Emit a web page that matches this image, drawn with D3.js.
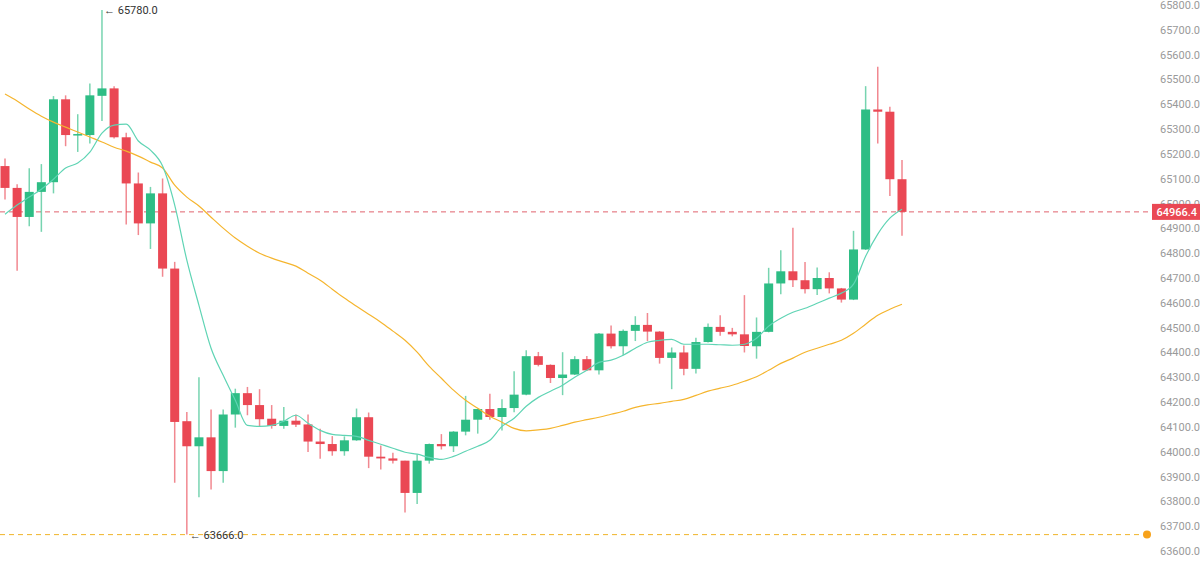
<!DOCTYPE html>
<html>
<head>
<meta charset="utf-8">
<script src="https://cdn.jsdelivr.net/npm/d3@7"></script>
<style>
  body { margin: 0; background: #fff; }
  .axis text { font-family: Roboto, "Noto Sans", sans-serif; font-size: 11px; fill: #9a9a9a; }
</style>
</head>
<body>
<div class="chart"></div>
<script>
// candle values (one per bar, left to right)
const opens = [65151,65063,64946,65047,65086,65420,65276,65276,65434,65464,65267,65081,64920,65041,64738,64123,64022,64058,63922,64150,
  64236,64188,64133,64104,64125,64110,64041,64031,64002,64046,64139,63980,63973,63964,63834,63964,64031,64022,64081,64129,
  64172,64140,64176,64230,64385,64350,64297,64311,64373,64328,64476,64425,64487,64511,64484,64378,64400,64334,64442,64503,
  64483,64473,64425,64483,64678,64727,64691,64655,64700,64658,64613,64815,65379,65370,65098];
const closes = [65063,64946,65047,65086,65420,65276,65280,65436,65464,65267,65081,64920,65041,64738,64120,64022,64058,63922,64150,64236,
  64188,64131,64104,64125,64109,64041,64031,64002,64046,64139,63980,63973,63964,63834,63964,64031,64022,64081,64129,64172,
  64140,64176,64230,64385,64350,64297,64311,64373,64328,64476,64425,64487,64511,64484,64378,64400,64334,64442,64503,64483,
  64473,64426,64483,64678,64727,64691,64655,64700,64658,64613,64815,65379,65370,65098,64966.4];
const highs = [65182,65078,65142,65159,65433,65436,65360,65484,65780,65473,65285,65125,65067,65101,64765,64160,64300,64170,64170,64254,
  64261,64252,64188,64180,64150,64150,64093,64063,64062,64174,64158,64025,63996,63964,63990,64033,64071,64083,64225,64174,
  64234,64211,64324,64409,64402,64352,64401,64385,64386,64478,64509,64492,64546,64559,64486,64420,64428,64459,64517,64550,
  64499,64631,64541,64741,64812,64902,64764,64742,64723,64660,64890,65473,65551,65390,65175];
const lows = [65016,64729,64909,64886,65041,65231,65208,65242,65333,65262,64916,64873,64817,64705,63875,63666,63817,63848,63875,64097,
  64147,64100,64093,64093,64100,63999,63972,63984,63984,64044,63934,63928,63953,63755,63789,63952,64009,63999,64066,64073,
  64129,64086,64159,64228,64344,64277,64228,64309,64325,64311,64416,64389,64446,64446,64355,64252,64308,64315,64440,64467,
  64465,64400,64375,64481,64635,64664,64638,64631,64638,64601,64611,64813,65242,65030,64870];

// moving average lines as drawn
const maFast = [64957,64994,65026,65058,65098,65143,65163,65207,65284,65316,65320,65252,65215,65151,64994,64772,64590,64417,64308,64207,
  64106,64102,64106,64123,64147,64115,64086,64070,64066,64062,64046,64030,64014,63998,63990,63977,63969,63981,64002,64022,
  64046,64102,64135,64183,64219,64244,64268,64300,64328,64360,64369,64389,64417,64441,64449,64453,64433,64433,64433,64431,
  64429,64433,64457,64506,64538,64562,64578,64598,64619,64639,64675,64788,64877,64941,64977];
const maSlow = [65441,65413,65381,65352,65328,65308,65288,65268,65248,65227,65211,65191,65167,65143,65074,65026,64990,64945,64901,64861,
  64828,64800,64780,64764,64748,64719,64691,64655,64619,64586,64554,64522,64486,64449,64401,64344,64296,64248,64207,64175,
  64143,64119,64094,64084,64088,64094,64106,64119,64129,64139,64151,64163,64179,64189,64195,64203,64211,64227,64244,64256,
  64268,64284,64302,64328,64356,64377,64401,64417,64433,64449,64477,64514,64550,64574,64594];

const lastPrice = 64966.4;
const maxMark = {i: 8, v: 65780};
const minMark = {i: 15, v: 63666};
const yTicks = d3.range(63600, 65801, 100);

const width = 1200, height = 562;
const upColor = '#2ebd85', downColor = '#ea4854';

const svg = d3.select('.chart')
  .append('svg')
  .attr('width', width)
  .attr('height', height);

const data = opens.map((o, i) => ({i: i, o: o, c: closes[i], h: highs[i], l: lows[i]}));

const xScale = d3.scaleLinear().domain([0, data.length - 1]).range([5, 902]);
const yScale = d3.scaleLinear().domain([63600, 65800]).range([551, 5]);

// price axis on the right
const yAxis = d3.axisRight(yScale)
  .tickValues(yTicks)
  .tickFormat(d3.format('.1f'))
  .tickSize(0)
  .tickPadding(0);

svg.append('g')
  .attr('class', 'axis y-axis')
  .attr('transform', 'translate(1160,0)')
  .call(yAxis)
  .call(g => g.select('.domain').remove());

// low line (dashed orange) with dot
svg.append('line')
  .attr('x1', 0).attr('x2', 1140)
  .attr('y1', yScale(minMark.v)).attr('y2', yScale(minMark.v))
  .attr('stroke', '#f0b429')
  .attr('stroke-width', 1)
  .attr('stroke-dasharray', '5,4');
svg.append('circle')
  .attr('cx', 1147).attr('cy', yScale(minMark.v))
  .attr('r', 4)
  .attr('fill', '#f7a21b');

// last price line
svg.append('line')
  .attr('x1', 0).attr('x2', 1152)
  .attr('y1', yScale(lastPrice)).attr('y2', yScale(lastPrice))
  .attr('stroke', '#e0636e')
  .attr('stroke-width', 1)
  .attr('stroke-dasharray', '5,4');

// wicks
svg.selectAll('.wick')
  .data(data)
  .enter()
  .append('line')
  .attr('class', 'wick')
  .attr('x1', d => xScale(d.i)).attr('x2', d => xScale(d.i))
  .attr('y1', d => yScale(d.h)).attr('y2', d => yScale(d.l))
  .attr('stroke', d => d.c >= d.o ? upColor : downColor)
  .attr('stroke-opacity', 0.65)
  .attr('stroke-width', 1.5);

// bodies
const bw = 9;
svg.selectAll('.body')
  .data(data)
  .enter()
  .append('rect')
  .attr('class', 'body')
  .attr('x', d => xScale(d.i) - bw / 2)
  .attr('y', d => yScale(Math.max(d.o, d.c)))
  .attr('width', bw)
  .attr('height', d => Math.max(1.5, Math.abs(yScale(d.o) - yScale(d.c))))
  .attr('fill', d => d.c >= d.o ? upColor : downColor);

// moving averages
const line = d3.line()
  .x((d, i) => xScale(i))
  .y(d => yScale(d))
  .curve(d3.curveMonotoneX);

svg.append('path')
  .datum(maSlow)
  .attr('d', line)
  .attr('fill', 'none')
  .attr('stroke', '#f5b52e')
  .attr('stroke-width', 1.2);

svg.append('path')
  .datum(maFast)
  .attr('d', line)
  .attr('fill', 'none')
  .attr('stroke', '#5fd4b4')
  .attr('stroke-width', 1.2);

// high / low annotations
svg.append('text')
  .attr('x', xScale(maxMark.i) + 2)
  .attr('y', yScale(maxMark.v) + 4)
  .attr('font-family', 'Roboto, sans-serif')
  .attr('font-size', 11)
  .attr('fill', '#333')
  .text('\u2190 ' + d3.format('.1f')(maxMark.v));

svg.append('text')
  .attr('x', xScale(minMark.i) + 3)
  .attr('y', yScale(minMark.v) + 4)
  .attr('font-family', 'Roboto, sans-serif')
  .attr('font-size', 11)
  .attr('fill', '#333')
  .text('\u2190 ' + d3.format('.1f')(minMark.v));

// last price label (covers the 65000.0 tick, as in the original)
svg.append('rect')
  .attr('x', 1152).attr('y', yScale(lastPrice) - 8)
  .attr('width', 48).attr('height', 16)
  .attr('fill', downColor);
svg.append('text')
  .attr('x', 1197).attr('y', yScale(lastPrice) + 4)
  .attr('text-anchor', 'end')
  .attr('font-family', 'Roboto, sans-serif')
  .attr('font-size', 11)
  .attr('font-weight', 500)
  .attr('fill', '#fff')
  .text(d3.format('.1f')(lastPrice));
</script>
</body>
</html>
